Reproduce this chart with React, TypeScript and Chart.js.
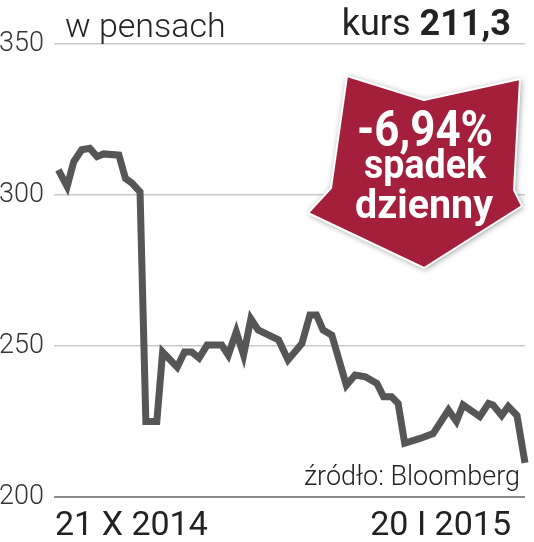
import React, { useEffect, useRef } from "react";
import { Chart, registerables } from "chart.js";
Chart.register(...registerables);

const days = [0, 1.2, 2.1, 3.2, 4.3, 5.3, 6.2, 8.3, 9.2, 10.1, 11.2, 12.0, 13.5, 14.3, 16.3, 17.3, 18.3, 19.3, 20.4, 22.4, 23.3, 24.4, 25.4, 26.4, 27.4, 30.2, 31.5, 33.4, 34.5, 35.4, 36.3, 37.5, 39.5, 40.7, 42.1, 43.7, 44.6, 45.7, 46.6, 47.5, 49.6, 51.4, 53.5, 54.6, 55.5, 57.8, 59, 59.6, 60.8, 61.7, 62.9, 64];
const prices = [308.3, 302.8, 311, 315, 315.5, 312.7, 313.6, 313.2, 305.5, 303.9, 301, 225, 225, 248, 243, 248, 248, 246, 250.3, 250.3, 247, 254.7, 247, 259, 255.3, 252, 245.4, 250.8, 260.3, 260.3, 255.3, 253.6, 237, 240.4, 239.8, 237.6, 233.2, 233.2, 231, 217.8, 219.4, 221, 228.8, 225, 230.5, 226.6, 231, 230.5, 227, 230, 227, 211.3];
const yTicks = [200, 250, 300, 350];
const titleText = "w pensach";
const rateLabel = "kurs ";
const rateValue = "211,3";
const startLabel = "21 X 2014";
const endLabel = "20 I 2015";
const sourceLabel = "źródło: Bloomberg";
const badgeLines = ["-6,94%", "spadek", "dzienny"];

export default function App() {
  const ref = useRef<HTMLCanvasElement>(null);
  useEffect(() => {
    document.body.style.margin = "0";
    const canvas = ref.current!;
    const textPlugin = {
      id: "texts",
      afterDraw(chart: any) {
        const ctx: CanvasRenderingContext2D = chart.ctx;
        ctx.save();
        ctx.textBaseline = "alphabetic";
        ctx.fillStyle = "#222";
        ctx.textAlign = "left";
        ctx.font = "300 34px Roboto";
        ctx.fillText(titleText, 65, 37);
        ctx.font = "bold 36px Roboto";
        const wv = ctx.measureText(rateValue).width;
        ctx.textAlign = "right";
        ctx.fillText(rateValue, 511, 35);
        ctx.font = "400 36px Roboto";
        ctx.fillText(rateLabel, 511 - wv, 35);
        ctx.font = "400 34px Roboto";
        ctx.textAlign = "left";
        ctx.fillText(startLabel, 55, 535);
        ctx.textAlign = "right";
        ctx.fillText(endLabel, 511, 535);
        ctx.font = "300 27px Roboto";
        ctx.fillText(sourceLabel, 520, 485);
        const pts = [[347, 76], [424, 100], [520, 79], [514, 190], [522, 206], [424, 268], [308, 213], [331, 188]];
        ctx.beginPath();
        pts.forEach((p, i) => (i ? ctx.lineTo(p[0], p[1]) : ctx.moveTo(p[0], p[1])));
        ctx.closePath();
        ctx.lineJoin = "round";
        ctx.shadowColor = "rgba(0,0,0,0.45)";
        ctx.shadowBlur = 6;
        ctx.shadowOffsetX = 1;
        ctx.shadowOffsetY = 1;
        ctx.fillStyle = "#a31f3c";
        ctx.fill();
        ctx.shadowColor = "transparent";
        ctx.strokeStyle = "#ffffff";
        ctx.lineWidth = 2;
        ctx.stroke();
        ctx.fillStyle = "#ffffff";
        ctx.textAlign = "center";
        ctx.font = "bold 50px Roboto";
        ctx.fillText(badgeLines[0], 425, 146, 136);
        ctx.font = "bold 40px Roboto";
        ctx.fillText(badgeLines[1], 425, 178, 122);
        ctx.fillText(badgeLines[2], 424, 218, 138);
        ctx.restore();
      },
    };
    const chart = new Chart(canvas, {
      type: "line",
      data: {
        datasets: [
          {
            data: days.map((d, i) => ({ x: d, y: prices[i] })),
            borderColor: "#565656",
            borderWidth: 7,
            pointRadius: 0,
            tension: 0,
            fill: false,
            clip: false,
          } as any,
        ],
      },
      options: {
        animation: false,
        responsive: false,
        maintainAspectRatio: false,
        layout: { padding: { top: 44, bottom: 45, right: 9, left: 0 } },
        plugins: { legend: { display: false }, tooltip: { enabled: false } },
        scales: {
          x: { type: "linear", min: -0.6, max: 64, display: false },
          y: {
            min: 200,
            max: 350,
            afterBuildTicks: (axis: any) => {
              axis.ticks = yTicks.map((v) => ({ value: v }));
            },
            afterFit: (axis: any) => {
              axis.width = 54;
            },
            border: { display: false },
            grid: {
              drawTicks: false,
              color: (c: any) => (c.tick && c.tick.value === 200 ? "#8c8c8c" : "#c9c9c9"),
              lineWidth: (c: any) => (c.tick && c.tick.value === 200 ? 2 : 1.5),
            },
            ticks: { padding: 10, color: "#333", font: { family: "Roboto", size: 27, weight: "300" } },
          },
        },
      } as any,
      plugins: [textPlugin],
    });
    return () => chart.destroy();
  }, []);
  return <canvas ref={ref} width={534} height={542} style={{ display: "block" }} />;
}
